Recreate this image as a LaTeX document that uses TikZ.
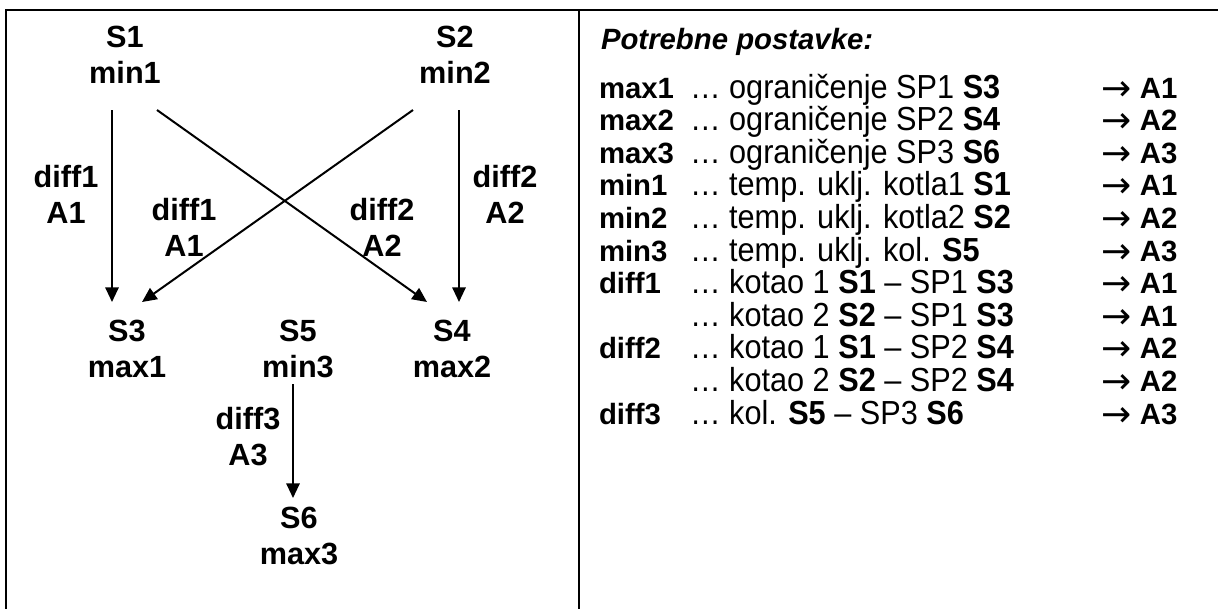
\documentclass[tikz,border=0pt]{standalone}
\usepackage{fontspec}
\setmainfont{Liberation Sans}
\newfontfamily\narrowfont[FakeStretch=0.92]{Liberation Sans}
\newfontfamily\symfont{DejaVu Sans}
\newcommand{\toarrow}{\raisebox{-1.5pt}{\fontsize{27}{24}\selectfont\symfont\mdseries →}\hspace{0.3em}}
\usetikzlibrary{arrows.meta}

\begin{document}
\begin{tikzpicture}[x=0.75pt, y=-0.75pt, line width=1.5pt,
                    lbl/.style={font=\fontsize{23}{27}\selectfont\bfseries, align=center, inner sep=0pt},
                    key/.style={font=\fontsize{22}{24}\selectfont\bfseries, anchor=base west, inner sep=0pt},
                    desc/.style={font=\fontsize{25}{24}\selectfont\narrowfont, anchor=base west, inner sep=0pt},
                    arr/.style={-{Triangle[length=11pt, width=10pt]}}]

% full original canvas; bottom and right border lie outside it
\useasboundingbox (0,0) rectangle (1218,608);

% ---- frame ----
\draw (6,640) -- (6,10) -- (1240,10);
\draw (579,10) -- (579,640);

% ---- left panel: sensors ----
\node[lbl] (s1) at (125,55)  {S1\\min1};
\node[lbl] (s2) at (455,55)  {S2\\min2};
\node[lbl] (s3) at (127,349) {S3\\max1};
\node[lbl] (s5) at (298,349) {S5\\min3};
\node[lbl] (s4) at (452,349) {S4\\max2};
\node[lbl] (s6) at (299,536) {S6\\max3};

% differential labels
\node[lbl] (l1) at (66,194)  {diff1\\A1};
\node[lbl] (l2) at (184,227) {diff1\\A1};
\node[lbl] (l3) at (382,227) {diff2\\A2};
\node[lbl] (l4) at (505,194) {diff2\\A2};
\node[lbl] (l5) at (248,437) {diff3\\A3};

% connectors
\draw[arr] ([shift={(-13,55)}]s1.center) -- ([shift={(-15,-47)}]s3.center);
\draw[arr] ([shift={(32,55)}]s1.center)  -- ([shift={(-25,-47)}]s4.center);
\draw[arr] ([shift={(-42,55)}]s2.center) -- ([shift={(15,-47)}]s3.center);
\draw[arr] ([shift={(4,55)}]s2.center)   -- ([shift={(7,-47)}]s4.center);
\draw[arr] ([shift={(-5,35)}]s5.center)  -- ([shift={(-6,-38)}]s6.center);

% ---- right panel: settings list ----
\node[key, font=\fontsize{22}{24}\selectfont\bfseries\itshape] (title) at (600,49) {Potrebne postavke:};

\node[key] (k1) at (598,98)    {max1};  \node[desc] (d1) at (689,98)    {… ograničenje SP1 \textbf{S3}};        \node[key] (o1) at (1100,98)    {\toarrow A1};
\node[key] (k2) at (598,130.6) {max2};  \node[desc] (d2) at (689,130.6) {… ograničenje SP2 \textbf{S4}};        \node[key] (o2) at (1100,130.6) {\toarrow A2};
\node[key] (k3) at (598,163.2) {max3};  \node[desc] (d3) at (689,163.2) {… ograničenje SP3 \textbf{S6}};        \node[key] (o3) at (1100,163.2) {\toarrow A3};
\node[key] (k4) at (598,195.8) {min1};  \node[desc] (d4) at (689,195.8) {… temp. uklj. kotla1 \textbf{S1}};     \node[key] (o4) at (1100,195.8) {\toarrow A1};
\node[key] (k5) at (598,228.4) {min2};  \node[desc] (d5) at (689,228.4) {… temp. uklj. kotla2 \textbf{S2}};     \node[key] (o5) at (1100,228.4) {\toarrow A2};
\node[key] (k6) at (598,261)   {min3};  \node[desc] (d6) at (689,261)   {… temp. uklj. kol. \textbf{S5}};        \node[key] (o6) at (1100,261)   {\toarrow A3};
\node[key] (k7) at (598,293.6) {diff1}; \node[desc] (d7) at (689,293.6) {… kotao 1 \textbf{S1} – SP1 \textbf{S3}}; \node[key] (o7) at (1100,293.6) {\toarrow A1};
                                        \node[desc] (d8) at (689,326.2) {… kotao 2 \textbf{S2} – SP1 \textbf{S3}}; \node[key] (o8) at (1100,326.2) {\toarrow A1};
\node[key] (k9) at (598,358.8) {diff2}; \node[desc] (d9) at (689,358.8) {… kotao 1 \textbf{S1} – SP2 \textbf{S4}}; \node[key] (o9) at (1100,358.8) {\toarrow A2};
                                        \node[desc] (d10) at (689,391.4) {… kotao 2 \textbf{S2} – SP2 \textbf{S4}}; \node[key] (o10) at (1100,391.4) {\toarrow A2};
\node[key] (k11) at (598,424)  {diff3}; \node[desc] (d11) at (689,424)  {… kol. \textbf{S5} – SP3 \textbf{S6}};     \node[key] (o11) at (1100,424)  {\toarrow A3};

\end{tikzpicture}
\end{document}
